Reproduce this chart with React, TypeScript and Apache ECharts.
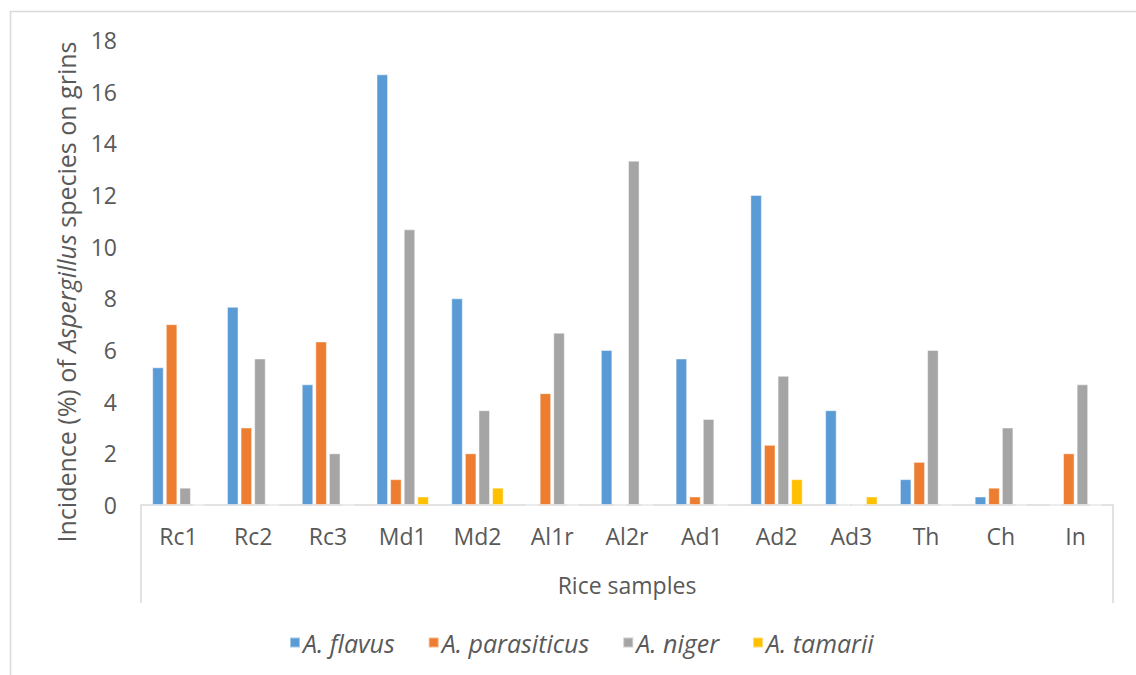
import React, { useEffect, useRef } from "react";
import * as echarts from "echarts";

// Rice samples on the category axis
const samples = ["Rc1", "Rc2", "Rc3", "Md1", "Md2", "Al1r", "Al2r", "Ad1", "Ad2", "Ad3", "Th", "Ch", "In"];

// Incidence (%) per species
const flavus = [5.33, 7.67, 4.67, 16.67, 8.0, 0, 6.0, 5.67, 12.0, 3.67, 1.0, 0.33, 0];
const parasiticus = [7.0, 3.0, 6.33, 1.0, 2.0, 4.33, 0, 0.33, 2.33, 0, 1.67, 0.67, 2.0];
const niger = [0.67, 5.67, 2.0, 10.67, 3.67, 6.67, 13.33, 3.33, 5.0, 0, 6.0, 3.0, 4.67];
const tamarii = [0, 0, 0, 0.33, 0.67, 0, 0, 0, 1.0, 0.33, 0, 0, 0];

const speciesNames = ["A. flavus", "A. parasiticus", "A. niger", "A. tamarii"];
const speciesColors = ["#5B9BD5", "#ED7D31", "#A5A5A5", "#FFC000"];

const FONT = "'Open Sans', 'Liberation Sans', sans-serif";
const TEXT_COLOR = "#595959";
const LINE_COLOR = "#D9D9D9";

// plot area
const GRID_LEFT = 141;
const GRID_RIGHT = 1113;
const GRID_TOP = 40;
const GRID_BOTTOM = 505;
const BOX_BOTTOM = 603;

export default function App() {
  const ref = useRef<HTMLDivElement>(null);

  useEffect(() => {
    if (!ref.current) return;
    const chart = echarts.init(ref.current, undefined, { renderer: "svg" });
    const seriesData = [flavus, parasiticus, niger, tamarii];

    chart.setOption({
      animation: false,
      backgroundColor: "#FFFFFF",
      textStyle: { fontFamily: FONT },
      grid: {
        left: GRID_LEFT,
        right: 1136 - GRID_RIGHT,
        top: GRID_TOP,
        bottom: 675 - GRID_BOTTOM,
        containLabel: false,
      },
      legend: {
        data: speciesNames,
        left: 284,
        top: 625,
        icon: "rect",
        itemWidth: 10,
        itemHeight: 10,
        itemGap: 33,
        textStyle: {
          fontFamily: FONT,
          fontSize: 25,
          fontStyle: "italic",
          color: TEXT_COLOR,
          padding: [0, 0, 0, -2],
        },
      },
      xAxis: {
        type: "category",
        data: samples,
        axisLine: { show: true, lineStyle: { color: LINE_COLOR, width: 1.5 } },
        axisTick: { show: false },
        axisLabel: {
          color: TEXT_COLOR,
          fontSize: 23,
          fontFamily: FONT,
          margin: 19,
          interval: 0,
        },
        name: "Rice samples",
        nameLocation: "middle",
        nameGap: 68,
        nameTextStyle: { color: TEXT_COLOR, fontSize: 23, fontFamily: FONT },
      },
      yAxis: {
        type: "value",
        min: 0,
        max: 18,
        interval: 2,
        axisLine: { show: false },
        axisTick: { show: false },
        splitLine: { show: false },
        axisLabel: {
          color: TEXT_COLOR,
          fontSize: 23,
          fontFamily: FONT,
          margin: 24,
        },
      },
      series: seriesData.map((d, i) => ({
        name: speciesNames[i],
        type: "bar",
        data: d,
        barGap: "18%",
        barCategoryGap: "30%",
        itemStyle: {
          color: speciesColors[i],
          borderColor: "rgba(255,255,255,0.45)",
          borderWidth: 1,
        },
      })),
      graphic: [
        // outer chart frame
        {
          type: "rect",
          shape: { x: 10.5, y: 11.5, width: 1300, height: 800 },
          style: { fill: "none", stroke: LINE_COLOR, lineWidth: 1.5 },
          silent: true,
        },
        // category axis box sides
        {
          type: "line",
          shape: { x1: GRID_LEFT, y1: GRID_BOTTOM, x2: GRID_LEFT, y2: BOX_BOTTOM },
          style: { stroke: LINE_COLOR, lineWidth: 1.5 },
          silent: true,
        },
        {
          type: "line",
          shape: { x1: GRID_RIGHT, y1: GRID_BOTTOM, x2: GRID_RIGHT, y2: BOX_BOTTOM },
          style: { stroke: LINE_COLOR, lineWidth: 1.5 },
          silent: true,
        },
        // y-axis title with italic genus name
        {
          type: "text",
          x: 66,
          y: 292,
          rotation: Math.PI / 2,
          style: {
            text: "{n|Incidence (%) of }{i|Aspergillus}{n| species on grins}",
            align: "center",
            verticalAlign: "middle",
            rich: {
              n: { fontFamily: FONT, fontSize: 25, fill: TEXT_COLOR },
              i: { fontFamily: FONT, fontSize: 25, fill: TEXT_COLOR, fontStyle: "italic" },
            },
          },
          silent: true,
        },
      ],
    });

    return () => chart.dispose();
  }, []);

  return (
    <div
      ref={ref}
      style={{ position: "absolute", left: 0, top: 0, width: 1136, height: 675 }}
    />
  );
}
